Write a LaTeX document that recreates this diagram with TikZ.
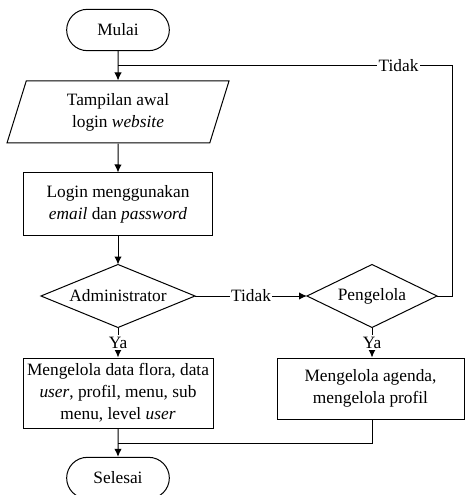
\documentclass[tikz,border=0pt]{standalone}
\usepackage{fontspec}
\setmainfont{Liberation Serif}
\usetikzlibrary{shapes.geometric,shapes.misc,arrows.meta}
\begin{document}
\begin{tikzpicture}[x=0.75pt,y=-0.75pt,
  every node/.style={font=\rmfamily\fontsize{13}{16.5}\selectfont},
  line width=0.75pt,
  term/.style={draw,rounded rectangle,minimum width=77pt,minimum height=31pt,inner sep=0pt},
  io/.style={draw,trapezium,trapezium left angle=63,trapezium right angle=117,trapezium stretches body,minimum width=166.5pt,minimum height=46.5pt,inner sep=0pt,align=center},
  proc/.style={draw,rectangle,inner sep=0pt,align=center},
  dec/.style={rectangle,minimum height=46.5pt,inner sep=0pt},
  arr/.style={-{Latex[length=6pt,width=5.5pt]}},
  lab/.style={fill=white,inner sep=1pt}]
\useasboundingbox (0,0) rectangle (465,495);
\node[term] (mulai) at (118,30) {Mulai};
\node[io] (tampil) at (118,112) {Tampilan awal\\login \textit{website}};
\node[proc,minimum width=141.75pt,minimum height=46.5pt] (login) at (118,204) {Login menggunakan\\\textit{email} dan \textit{password}};
\node[dec,minimum width=114.75pt] (admin) at (118,296) {Administrator};
\node[dec,minimum width=96.75pt] (peng) at (372,296) {Pengelola};
\draw (admin.north) -- (admin.east) -- (admin.south) -- (admin.west) -- cycle;
\draw (peng.north) -- (peng.east) -- (peng.south) -- (peng.west) -- cycle;
\node[proc,minimum width=142.5pt,minimum height=52.5pt] (kelola1) at (118,393) {Mengelola data flora, data\\\textit{user}, profil, menu, sub\\menu, level \textit{user}};
\node[proc,minimum width=140.25pt,minimum height=45.75pt] (kelola2) at (370.5,388.5) {Mengelola agenda,\\mengelola profil};
\node[term] (selesai) at (118,478) {Selesai};
\coordinate (loopin) at (118,66);
\coordinate (loopr1) at (452,296);
\coordinate (loopr2) at (452,66);
\coordinate (merge) at (118,443);
\coordinate (merger) at (372,443);
\draw[arr] (mulai) -- (tampil);
\draw[arr] (tampil) -- (login);
\draw[arr] (login) -- (admin);
\draw[arr] (admin) -- node[lab] {Tidak} (peng);
\draw[arr] (admin) -- node[lab] {Ya} (kelola1);
\draw[arr] (peng) -- node[lab] {Ya} (peng.south |- kelola2.north);
\draw (peng.east) -- (loopr1) -- (loopr2) -- node[lab,pos=0.16] {Tidak} (loopin);
\draw[arr] (kelola1) -- (selesai);
\draw (kelola2.south -| merger) -- (merger) -- (merge);
\end{tikzpicture}
\end{document}
